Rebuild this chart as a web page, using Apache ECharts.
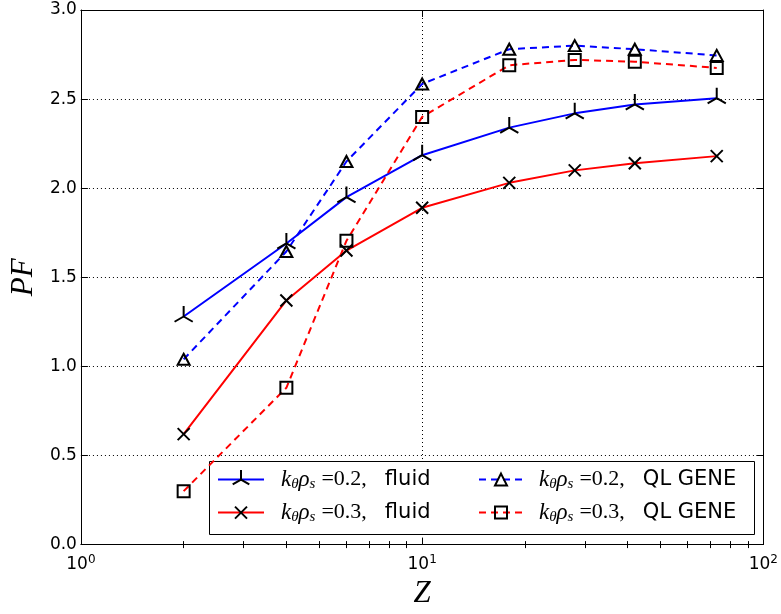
<!DOCTYPE html>
<html><head><meta charset="utf-8">
<script src="https://cdn.jsdelivr.net/npm/echarts@6/dist/echarts.min.js"></script>
<style>html,body{margin:0;padding:0;background:#fff}#c{width:781px;height:614px}</style>
</head><body><div id="c"></div>
<script>
// ---- data ----
const zValues   = [2, 4, 6, 10, 18, 28, 42, 73];
const fluidK02  = [1.28, 1.69, 1.95, 2.185, 2.34, 2.42, 2.47, 2.505];
const fluidK03  = [0.62, 1.37, 1.65, 1.89, 2.03, 2.10, 2.14, 2.18];
const geneK02   = [1.04, 1.645, 2.15, 2.585, 2.78, 2.80, 2.78, 2.745];
const geneK03   = [0.30, 0.88, 1.705, 2.40, 2.69, 2.72, 2.71, 2.675];
const kValues   = ['0.2', '0.3'];
const modelNames = ['fluid', 'QL GENE'];
const xMajorTicks = [1, 10, 100];
const xMinorTicks = [2, 3, 4, 5, 6, 7, 8, 9, 20, 30, 40, 50, 60, 70, 80, 90];
const yMin = 0, yMax = 3, yStep = 0.5;

// ---- styling ----
const BLUE = '#0000ff', RED = '#ff0000';
const SYM_TRI = 'path://M-1,-1M1,1M0,0L0,-1M0,0L-0.866,0.5M0,0L0.866,0.5';
const SYM_X   = 'path://M-1.6,-1.6M1.6,1.6M-1,-1L1,1M-1,1L1,-1';
const SYM_SQ  = 'path://M-1.6,-1.6M1.6,1.6M-1,-1L1,-1L1,1L-1,1Z';
const SYM_TR  = 'path://M-1.6,-1.6M1.6,1.6M0,-1L1,1L-1,1Z';
const DASH = [7, 5];

const names = [
  'k02 ' + modelNames[0], 'k03 ' + modelNames[0],
  'k02 ' + modelNames[1], 'k03 ' + modelNames[1]
];
const pairs = arr => zValues.map((z, i) => [z, arr[i]]);

function mkSeries(name, arr, color, dashed, symbol, size) {
  return {
    type: 'line', name, data: pairs(arr),
    xAxisIndex: 0, yAxisIndex: 0,
    symbol, symbolSize: size, showSymbol: true,
    lineStyle: { color, width: 2, type: dashed ? DASH : 'solid' },
    itemStyle: { color: 'none', borderColor: '#000', borderWidth: 2 },
    emphasis: { disabled: true },
    animation: false
  };
}

const rich = {
  sp: { width: 12 },
  sp2: { width: 11 },
  m: { fontFamily: 'Liberation Serif', fontStyle: 'italic', fontSize: 23, color: '#000' },
  sub: { fontFamily: 'Liberation Serif', fontStyle: 'italic', fontSize: 15, color: '#000', verticalAlign: 'bottom' },
  g1: { width: 6 },
  r: { fontFamily: 'Liberation Serif', fontSize: 22, color: '#000' },
  g2: { width: 18 },
  t: { fontFamily: 'DejaVu Sans', fontSize: 21, color: '#000' }
};
function legendText(ki, mi, col) {
  return '{' + (col === 0 ? 'sp' : 'sp2') + '| }{m|k}{sub|θ}{m|ρ}{sub|s}{g1| }{r|=' + kValues[ki] + ',}{g2| }{t|' + modelNames[mi] + '}';
}
function mkLegend(idx, ki, mi, col, row, color, dashed) {
  return {
    data: [names[idx]], selectedMode: false, padding: 0, itemGap: 0,
    left: col === 0 ? 217 : 478, top: row === 0 ? 467.5 : 500.5,
    itemWidth: col === 0 ? 46 : 44, itemHeight: 24,
    formatter: () => legendText(ki, mi, col),
    textStyle: { lineHeight: 24, color: '#000', rich },
    itemStyle: { color: 'none', borderColor: '#000', borderWidth: 2 },
    lineStyle: { color, width: 2, type: dashed ? DASH : 'solid' },
    z: 5
  };
}

const chart = echarts.init(document.getElementById('c'), null, { renderer: 'canvas' });
const gridDots = { color: '#000', width: 1, type: [1, 3] };
const xBase = { type: 'log', logBase: 10, min: xMajorTicks[0], max: xMajorTicks[xMajorTicks.length - 1], gridIndex: 0 };
const yBase = { type: 'value', min: yMin, max: yMax, interval: yStep, gridIndex: 0 };

chart.setOption({
  animation: false,
  backgroundColor: '#fff',
  grid: { left: 75, right: 17, top: 10, bottom: 68, containLabel: false },
  xAxis: [
    Object.assign({}, xBase, {
      position: 'bottom',
      axisLine: { show: true, onZero: false, lineStyle: { color: '#000', width: 1 } },
      axisTick: { show: true, inside: true, length: 7, lineStyle: { color: '#000' } },
      axisLabel: {
        show: true, margin: 9, showMinLabel: true, showMaxLabel: true,
        formatter: v => '{b|10}{e|' + Math.round(Math.log10(v)) + '}',
        rich: {
          b: { fontFamily: 'DejaVu Sans', fontSize: 17, color: '#000', lineHeight: 22 },
          e: { fontFamily: 'DejaVu Sans', fontSize: 12, color: '#000', verticalAlign: 'top' }
        }
      },
      splitLine: { show: true, lineStyle: gridDots },
      name: 'Z', nameLocation: 'middle', nameGap: 31,
      nameTextStyle: { fontFamily: 'Liberation Serif', fontStyle: 'italic', fontSize: 31, color: '#000' }
    }),
    Object.assign({}, xBase, {
      position: 'bottom',
      axisLine: { show: false },
      axisTick: { show: true, inside: true, length: 3.5, customValues: xMinorTicks, lineStyle: { color: '#000' } },
      axisLabel: { show: false }, splitLine: { show: false }
    }),
    Object.assign({}, xBase, {
      position: 'top',
      axisLine: { show: true, onZero: false, lineStyle: { color: '#000', width: 1 } },
      axisTick: { show: true, inside: true, length: 7, lineStyle: { color: '#000' } },
      axisLabel: { show: false }, splitLine: { show: false }
    }),
    Object.assign({}, xBase, {
      position: 'top',
      axisLine: { show: false },
      axisTick: { show: true, inside: true, length: 3.5, customValues: xMinorTicks, lineStyle: { color: '#000' } },
      axisLabel: { show: false }, splitLine: { show: false }
    })
  ],
  yAxis: [
    Object.assign({}, yBase, {
      position: 'left',
      axisLine: { show: true, onZero: false, lineStyle: { color: '#000', width: 1 } },
      axisTick: { show: true, inside: true, length: 7, lineStyle: { color: '#000' } },
      axisLabel: { show: true, margin: 4, fontFamily: 'DejaVu Sans', fontSize: 17, color: '#000',
                   formatter: v => v.toFixed(1) },
      splitLine: { show: true, lineStyle: gridDots },
      name: 'PF', nameLocation: 'middle', nameGap: 35,
      nameTextStyle: { fontFamily: 'Liberation Serif', fontStyle: 'italic', fontSize: 31, color: '#000' }
    }),
    Object.assign({}, yBase, {
      position: 'right',
      axisLine: { show: true, onZero: false, lineStyle: { color: '#000', width: 1 } },
      axisTick: { show: true, inside: true, length: 7, lineStyle: { color: '#000' } },
      axisLabel: { show: false }, splitLine: { show: false }
    })
  ],
  legend: [
    mkLegend(0, 0, 0, 0, 0, BLUE, false),
    mkLegend(1, 1, 0, 0, 1, RED, false),
    mkLegend(2, 0, 1, 1, 0, BLUE, true),
    mkLegend(3, 1, 1, 1, 1, RED, true)
  ],
  graphic: [{
    type: 'rect', z: 3, silent: true,
    shape: { x: 209.5, y: 461.5, width: 545, height: 73 },
    style: { fill: '#fff', stroke: '#000', lineWidth: 1 }
  }],
  series: [
    mkSeries(names[0], fluidK02, BLUE, false, SYM_TRI, 21),
    mkSeries(names[1], fluidK03, RED, false, SYM_X, 19.2),
    mkSeries(names[2], geneK02, BLUE, true, SYM_TR, [19.2, 17.6]),
    mkSeries(names[3], geneK03, RED, true, SYM_SQ, 19.2)
  ]
});
</script>
</body></html>
